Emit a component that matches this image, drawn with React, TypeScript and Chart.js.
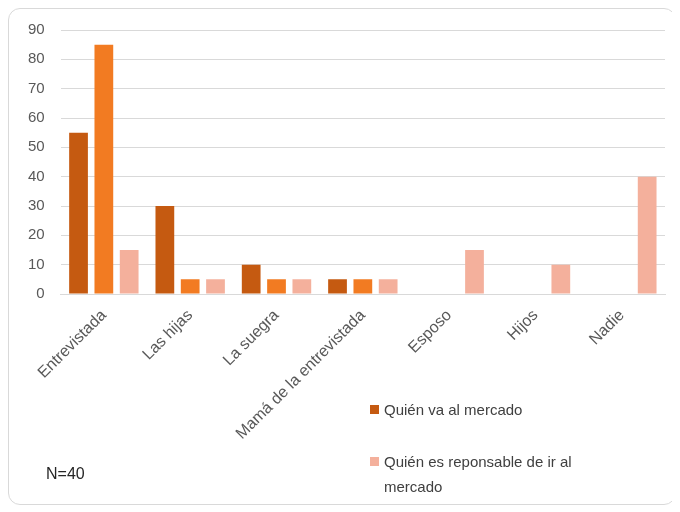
import React, { useEffect, useRef } from "react";
import { Chart, registerables } from "chart.js";

Chart.register(...registerables);

const categories = [
  "Entrevistada",
  "Las hijas",
  "La suegra",
  "Mamá de la entrevistada",
  "Esposo",
  "Hijos",
  "Nadie",
];
const quienVa = [55, 30, 10, 5, 0, 0, 0];
const serie2 = [85, 5, 5, 5, 0, 0, 0];
const quienResponsable = [15, 5, 5, 5, 15, 10, 40];
const yTicks = [0, 10, 20, 30, 40, 50, 60, 70, 80, 90];

const seriesNames = ["Quién va al mercado", "Serie 2", "Quién es reponsable de ir al mercado"];
const colors = ["#c55a11", "#f27b22", "#f4b09c"];

export default function App() {
  const ref = useRef<HTMLCanvasElement | null>(null);

  useEffect(() => {
    if (!ref.current) return;
    const chart = new Chart(ref.current, {
      type: "bar",
      data: {
        labels: categories,
        datasets: [
          { label: seriesNames[0], data: quienVa, backgroundColor: colors[0] },
          { label: seriesNames[1], data: serie2, backgroundColor: colors[1] },
          { label: seriesNames[2], data: quienResponsable, backgroundColor: colors[2] },
        ].map((d) => ({ ...d, barPercentage: 0.74, categoryPercentage: 0.88 })),
      },
      options: {
        animation: false,
        responsive: false,
        maintainAspectRatio: false,
        layout: { padding: { left: 3, right: 10, top: 8, bottom: 0 } },
        plugins: { legend: { display: false }, tooltip: { enabled: false } },
        scales: {
          x: {
            grid: { display: false },
            border: { display: true, color: "#d9d9d9" },
            ticks: {
              color: "#595959",
              font: { family: "Liberation Sans, Arial, sans-serif", size: 16 },
              minRotation: 45,
              maxRotation: 45,
              padding: 4,
            },
            afterFit: (s: any) => {
              s.height = 210;
            },
          },
          y: {
            min: 0,
            max: 90,
            afterBuildTicks: (s: any) => {
              s.ticks = yTicks.map((v) => ({ value: v }));
            },
            grid: { color: "#d9d9d9", drawTicks: false },
            border: { display: false },
            ticks: {
              color: "#595959",
              font: { family: "Liberation Sans, Arial, sans-serif", size: 15 },
              padding: 16,
            },
          },
        },
      },
    });
    return () => chart.destroy();
  }, []);

  const legendItem = (color: string, text: React.ReactNode, top: number) => (
    <div
      style={{
        position: "absolute",
        left: 361,
        top,
        width: 240,
        display: "flex",
        alignItems: "flex-start",
        fontSize: 15,
        lineHeight: "25px",
        color: "#404040",
      }}
    >
      <span
        style={{
          display: "inline-block",
          width: 9,
          height: 9,
          background: color,
          marginTop: 8,
          marginRight: 5,
          flexShrink: 0,
        }}
      />
      <span>{text}</span>
    </div>
  );

  return (
    <div
      style={{
        position: "relative",
        width: 666,
        height: 495,
        border: "1px solid #d9d9d9",
        borderRadius: 12,
        fontFamily: "Liberation Sans, Arial, sans-serif",
        background: "#fff",
      }}
    >
      <canvas
        ref={ref}
        width={666}
        height={499}
        style={{ position: "absolute", left: 0, top: -4, width: 666, height: 499 }}
      />
      {legendItem(colors[0], seriesNames[0], 388)}
      {legendItem(colors[2], seriesNames[2], 440)}
      <div
        style={{
          position: "absolute",
          left: 37,
          top: 456,
          fontSize: 16,
          color: "#262626",
        }}
      >
        N=40
      </div>
    </div>
  );
}
